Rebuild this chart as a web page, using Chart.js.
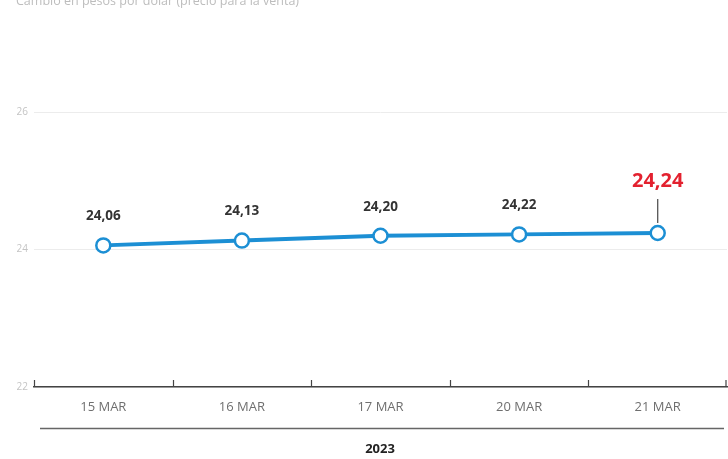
<!DOCTYPE html>
<html>
<head>
<meta charset="utf-8">
<script src="https://cdn.jsdelivr.net/npm/chart.js@4"></script>
<style>
  html, body { margin: 0; padding: 0; background: #fff; overflow: hidden; }
  #wrap { width: 728px; height: 459px; position: relative; }
  canvas { display: block; }
</style>
</head>
<body>
<div id="wrap"><canvas id="dolarChart"></canvas></div>
<script>
// --- data ---
const fechas = ['15 MAR', '16 MAR', '17 MAR', '20 MAR', '21 MAR'];
const cotizacion = [24.06, 24.13, 24.20, 24.22, 24.24];
const ticksY = [22, 24, 26];
const anio = '2023';
const subtitulo = 'Cambio en pesos por dólar (precio para la venta)';

const AZUL = '#1c8fd4';
const ROJO = '#e3212f';
const FUENTE = '"Open Sans", "Noto Sans", sans-serif';

const fmt = v => v.toFixed(2).replace('.', ',');

// labels, ticks sobre el eje, segunda línea y año
const extras = {
    id: 'extras',
    afterDatasetsDraw(chart) {
        const ctx = chart.ctx;
        const area = chart.chartArea;
        const x = chart.scales.x;
        const meta = chart.getDatasetMeta(0);

        ctx.save();
        // subtítulo cortado arriba
        ctx.fillStyle = '#bdbdbd';
        ctx.font = '12.5px ' + FUENTE;
        ctx.textAlign = 'left';
        ctx.textBaseline = 'middle';
        ctx.fillText(subtitulo, 16, 1);

        // marcas del eje x hacia arriba
        ctx.strokeStyle = '#444';
        ctx.lineWidth = 1.2;
        const n = fechas.length;
        for (let i = 0; i <= n; i++) {
            const px = Math.min(Math.round(x.left + i * (x.width / n)) + 0.5, x.right - 1);
            ctx.beginPath();
            ctx.moveTo(px, area.bottom);
            ctx.lineTo(px, area.bottom - 7);
            ctx.stroke();
        }

        // línea inferior del grupo del año
        ctx.strokeStyle = '#666';
        ctx.lineWidth = 1.5;
        ctx.beginPath();
        ctx.moveTo(area.left + 6, 428.5);
        ctx.lineTo(area.right - 3, 428.5);
        ctx.stroke();

        ctx.fillStyle = '#222';
        ctx.font = 'bold 13px ' + FUENTE;
        ctx.textAlign = 'center';
        ctx.fillText(anio, 380, 449);

        // etiquetas de valores
        meta.data.forEach((pt, i) => {
            const last = i === cotizacion.length - 1;
            if (last) {
                ctx.strokeStyle = '#555';
                ctx.lineWidth = 1.3;
                ctx.beginPath();
                ctx.moveTo(pt.x, pt.y - 10);
                ctx.lineTo(pt.x, pt.y - 34);
                ctx.stroke();
                ctx.fillStyle = ROJO;
                ctx.font = 'bold 20px ' + FUENTE;
                ctx.textBaseline = 'alphabetic';
                ctx.fillText(fmt(cotizacion[i]), pt.x, pt.y - 46);
            } else {
                ctx.fillStyle = '#333';
                ctx.font = 'bold 13.5px ' + FUENTE;
                ctx.textBaseline = 'middle';
                ctx.fillText(fmt(cotizacion[i]), pt.x, pt.y - 29);
            }
        });
        ctx.restore();
    }
};

new Chart(document.getElementById('dolarChart'), {
    type: 'line',
    data: {
        labels: fechas,
        datasets: [{
            data: cotizacion,
            borderColor: AZUL,
            borderWidth: 4,
            pointBackgroundColor: '#fff',
            pointBorderColor: AZUL,
            pointBorderWidth: 2.5,
            pointRadius: 7,
            tension: 0,
            fill: false
        }]
    },
    options: {
        responsive: true,
        maintainAspectRatio: false,
        animation: false,
        layout: { autoPadding: false, padding: { top: 112, right: 1, left: 0, bottom: 0 } },
        plugins: {
            legend: { display: false },
            tooltip: { enabled: false }
        },
        scales: {
            x: {
                offset: true,
                grid: { display: false, drawTicks: false },
                border: { display: true, color: '#444', width: 1.5 },
                ticks: {
                    color: '#6f6f6f',
                    font: { size: 13, family: FUENTE },
                    padding: 12
                },
                afterFit(scale) {
                    scale.height = 72;
                    scale.paddingLeft = 0;
                    scale.paddingRight = 0;
                }
            },
            y: {
                min: 22,
                max: 26,
                afterBuildTicks(scale) {
                    scale.ticks = ticksY.map(v => ({ value: v }));
                },
                grid: { color: '#ececec', drawTicks: false },
                border: { display: false },
                ticks: {
                    color: '#c4c4c4',
                    font: { size: 10, family: FUENTE },
                    padding: 6
                },
                afterFit(scale) { scale.width = 34; }
            }
        }
    },
    plugins: [extras]
});
</script>
</body>
</html>
